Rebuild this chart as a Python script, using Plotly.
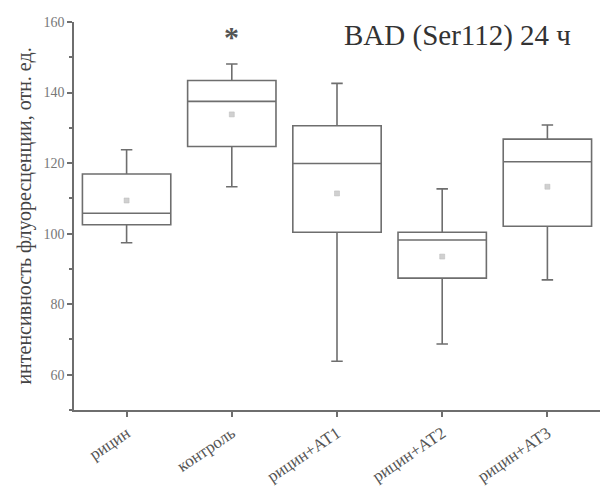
import plotly.graph_objects as go

categories = ["рицин", "контроль", "рицин+АТ1", "рицин+АТ2", "рицин+АТ3"]
whisker_low = [97.4, 113.3, 63.8, 68.7, 86.9]
q1 = [102.5, 124.7, 100.4, 87.4, 102.1]
median = [105.8, 137.5, 119.9, 98.2, 120.4]
q3 = [116.9, 143.4, 130.6, 100.4, 126.8]
whisker_high = [123.8, 148.1, 142.6, 112.7, 130.8]
means = [109.4, 133.8, 111.4, 93.5, 113.3]
y_ticks = [60, 80, 100, 120, 140, 160]

serif = "Liberation Serif"
line_col = "#6e6e6e"

fig = go.Figure()
fig.add_trace(go.Box(
    x=categories, q1=q1, median=median, q3=q3,
    lowerfence=whisker_low, upperfence=whisker_high,
    fillcolor="rgba(255,255,255,0)",
    line=dict(color=line_col, width=1.6),
    whiskerwidth=0.13, boxpoints=False, showlegend=False,
))
fig.add_trace(go.Scatter(
    x=categories, y=means, mode="markers",
    marker=dict(symbol="square", size=5, color="#d0d0d0",
                line=dict(color="#bbbbbb", width=0.5)),
    showlegend=False,
))
fig.add_annotation(x="контроль", y=156.0, text="<b>*</b>", showarrow=False,
                   font=dict(family=serif, size=30, color="#555555"),
                   xref="x", yref="y", yanchor="middle")

pw = 601 - 74 - 1
ph = 493 - 22 - 83
fig.add_annotation(x=(573 - 74) / pw, y=(ph - (35 - 22)) / ph,
                   xref="paper", yref="paper",
                   text="BAD (Ser112) 24 ч", showarrow=False,
                   xanchor="right", yanchor="middle",
                   font=dict(family=serif, size=29, color="#333333"))

fig.update_layout(
    width=601, height=493,
    margin=dict(l=74, r=1, t=22, b=83),
    paper_bgcolor="white", plot_bgcolor="white",
    boxgap=0.16, boxgroupgap=0,
    font=dict(family=serif, color="#555555"),
)

fig.update_xaxes(
    type="category", range=[-0.5, 4.5],
    showline=True, linecolor=line_col, linewidth=1.6,
    ticks="outside", ticklen=5, tickcolor=line_col, tickwidth=1.5,
    tickangle=-34, tickfont=dict(family=serif, size=17, color="#555555"),
    showgrid=False, zeroline=False,
)
fig.update_yaxes(
    range=[50, 160], tickvals=y_ticks,
    showline=True, linecolor=line_col, linewidth=1.6,
    ticks="outside", ticklen=5, tickcolor=line_col, tickwidth=1.5,
    minor=dict(dtick=10, tick0=0, ticks="outside", ticklen=3, tickcolor=line_col, tickwidth=1.5),
    tickfont=dict(family=serif, size=14, color="#777777"),
    title=dict(text="интенсивность флуоресценции, отн. ед.",
               font=dict(family=serif, size=20, color="#444444"), standoff=6),
    showgrid=False, zeroline=False,
)

fig.write_html("out.html")
